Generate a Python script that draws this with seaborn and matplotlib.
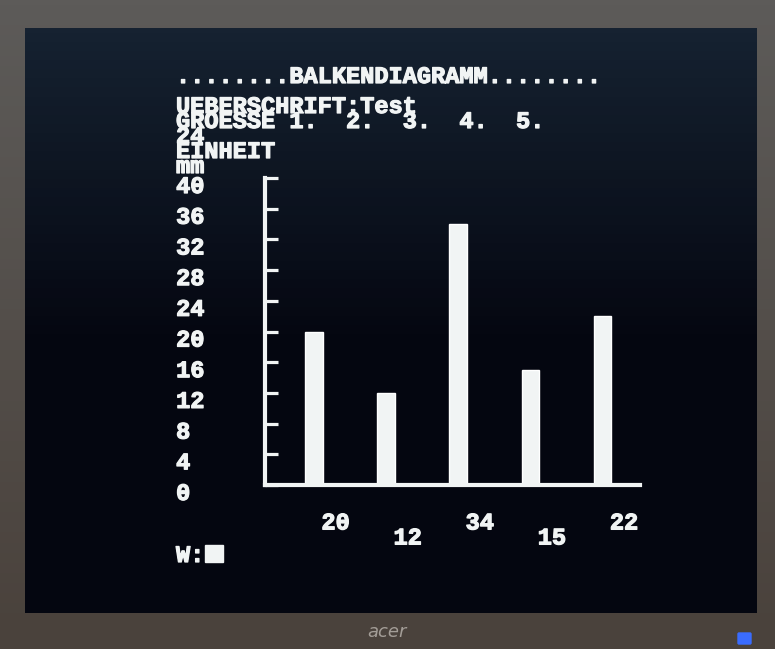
import numpy as np
import pandas as pd
import matplotlib
matplotlib.use("Agg")
import matplotlib.pyplot as plt
import matplotlib.patheffects as pe
from matplotlib.transforms import ScaledTranslation
from matplotlib.patches import FancyBboxPatch, Rectangle
from matplotlib.font_manager import FontProperties
import seaborn as sns

# ---- data ----
categories = ["1.", "2.", "3.", "4.", "5."]
values = [20, 12, 34, 15, 22]
y_ticks = [0, 4, 8, 12, 16, 20, 24, 28, 32, 36, 40]
title_line = "........BALKENDIAGRAMM........"
header_lines = ["UEBERSCHRIFT:Test", "GROESSE 1.  2.  3.  4.  5.", "24", "EINHEIT", "mm"]
prompt = "W:"

sns.set_theme(style="white")
plt.rcParams["font.family"] = ["Liberation Mono", "DejaVu Sans Mono"]
plt.rcParams["font.weight"] = "bold"

W, H = 775, 649
FS = 17
fig = plt.figure(figsize=(W / 100, H / 100), dpi=100)
fig.patch.set_facecolor("#55514d")

FG = "#f1f4f4"
heavy = [pe.withStroke(linewidth=0.9, foreground=FG)]

# ---- monitor bezel & screen background ----
bg = fig.add_axes([0, 0, 1, 1], zorder=-10)
bg.set_xlim(0, W)
bg.set_ylim(H, 0)
bg.axis("off")
bez = np.linspace(0, 1, 64)[:, None]
bez_cols = np.array([0x5d, 0x5b, 0x59]) * (1 - bez[..., None]) + np.array([0x4a, 0x42, 0x3c]) * bez[..., None]
bg.imshow(bez_cols.astype(np.uint8).repeat(4, axis=1), extent=[0, W, H, 0], aspect="auto", interpolation="bilinear")
scr = np.linspace(0, 1, 64)[:, None]
top_c = np.array([0x16, 0x22, 0x31])
bot_c = np.array([0x04, 0x06, 0x10])
t = np.clip(scr * 1.8, 0, 1)
scr_cols = top_c * (1 - t[..., None]) + bot_c * t[..., None]
bg.imshow(scr_cols.astype(np.uint8).repeat(4, axis=1), extent=[25, 757, 613, 28], aspect="auto", interpolation="bilinear")
bg.text(387, 632, "acer", color="#a39d97", fontsize=13, ha="center", va="center",
        family=["DejaVu Sans"], fontweight="normal", style="italic")
bg.add_patch(FancyBboxPatch((739, 634), 11, 9, boxstyle="round,pad=1", color="#3a6cff"))
# text cursor block after the prompt
bg.add_patch(Rectangle((205, 545), 18, 17, color=FG))

# ---- chart axes ----
ax = fig.add_axes([265 / W, 1 - 485 / H, 375 / W, 307 / H])
ax.set_facecolor("none")
df = pd.DataFrame({"Groesse": categories, "Wert": values})
sns.barplot(data=df, x="Groesse", y="Wert", color=FG, saturation=1, width=0.245, ax=ax, zorder=2)
ax.set_xlim(-0.68, 4.52)
ax.set_ylim(0, 40)
ax.set_xlabel("")
ax.set_ylabel("")
for s in ["top", "right"]:
    ax.spines[s].set_visible(False)
for s in ["left", "bottom"]:
    ax.spines[s].set_color(FG)
    ax.spines[s].set_linewidth(3.0)
    ax.spines[s].set_capstyle("projecting")
    ax.spines[s].set_zorder(3)

ax.set_yticks(y_ticks)
ax.set_yticklabels([str(v) for v in y_ticks])
ax.tick_params(axis="y", left=True, direction="in", length=9, width=2.3, color=FG, labelcolor=FG,
               pad=64, labelsize=FS)
dy = ScaledTranslation(0, -6 / 100, fig.dpi_scale_trans)
for lab in ax.get_yticklabels():
    lab.set_horizontalalignment("left")
    lab.set_transform(lab.get_transform() + dy)
    lab.set_path_effects(heavy)

ax.set_xticks(range(len(values)))
ax.set_xticklabels([str(v) for v in values])
ax.tick_params(axis="x", bottom=True, length=0, labelcolor=FG, pad=19, labelsize=FS)
for i, lab in enumerate(ax.get_xticklabels()):
    off = ScaledTranslation(21.5 / 100, (-15 if i % 2 else 0) / 100, fig.dpi_scale_trans)
    lab.set_transform(lab.get_transform() + off)
    lab.set_path_effects(heavy)

# ---- screen text (one block, terminal-like line pitch) ----
renderer = fig.canvas.get_renderer()
fp = FontProperties(family=["Liberation Mono", "DejaVu Sans Mono"], weight="bold", size=FS)
_, lp_h, lp_d = renderer.get_text_width_height_descent("lp", fp, ismath=False)
pitch = 15.0
# matplotlib line pitch = linespacing*(h-d) + d
ls = (pitch - lp_d) / (lp_h - lp_d)
block = "\n".join([title_line, ""] + header_lines)
X0 = 176 / W
# va="baseline" on a multi-line text anchors the last line ("mm") baseline
fig.text(X0, 1 - 173 / H, block, color=FG, fontproperties=fp, ha="left", va="baseline",
         linespacing=ls, path_effects=heavy)
fig.text(X0, 1 - 562 / H, prompt, color=FG, fontproperties=fp, ha="left", va="baseline",
         path_effects=heavy)

fig.savefig("out.png", dpi=100, facecolor=fig.get_facecolor())
